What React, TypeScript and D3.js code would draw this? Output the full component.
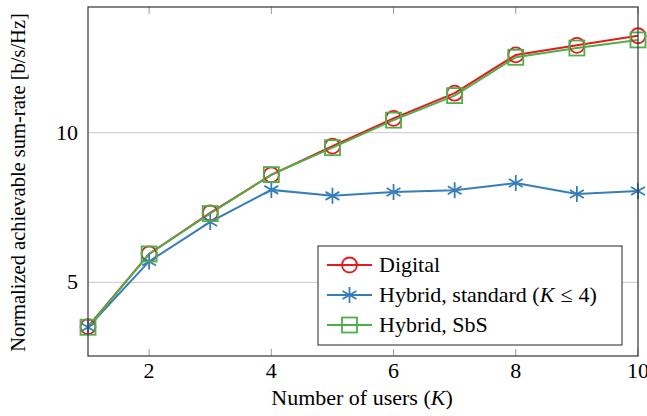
import React from 'react';
import * as d3 from 'd3';

const users = [1, 2, 3, 4, 5, 6, 7, 8, 9, 10];
const digital = [3.52, 5.95, 7.32, 8.59, 9.55, 10.48, 11.32, 12.6, 12.92, 13.24];
const hybridStandard = [3.5, 5.7, 7.02, 8.09, 7.89, 8.02, 8.08, 8.32, 7.95, 8.05];
const hybridSbS = [3.5, 5.95, 7.3, 8.6, 9.5, 10.42, 11.24, 12.52, 12.83, 13.1];
const xTicks = [2, 4, 6, 8, 10];
const yTicks = [5, 10];

const W = 647;
const H = 416;
const left = 88;
const right = 638;
const top = 7;
const bottom = 356;
const RED = '#e41a1c';
const BLUE = '#377eb8';
const GREEN = '#4daf4a';
const FONT = 'Liberation Serif';
const FS = 22;

const x = d3.scaleLinear().domain([1, 10]).range([left, right]);
const y = d3.scaleLinear().domain([2.54, 14.2]).range([bottom, top]);

function Star({ cx, cy, color }: { cx: number; cy: number; color: string }) {
  const r = 8;
  const spokes = d3.range(6).map(i => {
    const a = (i * Math.PI) / 3 - Math.PI / 2;
    return `M${cx},${cy}L${cx + r * Math.cos(a)},${cy + r * Math.sin(a)}`;
  });
  return <path d={spokes.join('')} stroke={color} strokeWidth={1.8} fill="none" />;
}

export default function App() {
  const line = d3
    .line<number>()
    .x((_, i) => x(users[i]))
    .y(d => y(d));

  const legendItems = [
    { label: 'Digital', color: RED, kind: 'circle' },
    { label: 'Hybrid, standard', color: BLUE, kind: 'star' },
    { label: 'Hybrid, SbS', color: GREEN, kind: 'square' },
  ];

  return (
    <svg width={W} height={H} fontFamily={FONT} style={{ position: 'absolute', left: 0, top: 0, fontFamily: FONT }}>
      <rect x={0} y={0} width={W} height={H} fill="#fff" />
      {yTicks.map(t => (
        <line key={t} x1={left} x2={right} y1={y(t)} y2={y(t)} stroke="#c8c8c8" strokeWidth={1} />
      ))}
      {xTicks.map(t => (
        <g key={t}>
          <line x1={x(t)} x2={x(t)} y1={bottom} y2={bottom - 7} stroke="#999" strokeWidth={1} />
          <line x1={x(t)} x2={x(t)} y1={top} y2={top + 7} stroke="#999" strokeWidth={1} />
          <text x={x(t)} y={bottom + 22} textAnchor="middle" fontSize={FS} fontFamily={FONT}>
            {t}
          </text>
        </g>
      ))}
      {yTicks.map(t => (
        <text key={t} x={left - 10} y={y(t) + 7} textAnchor="end" fontSize={FS} fontFamily={FONT}>
          {t}
        </text>
      ))}

      <path d={line(digital) || ''} stroke={RED} strokeWidth={2} fill="none" />
      <path d={line(hybridStandard) || ''} stroke={BLUE} strokeWidth={2} fill="none" />
      <path d={line(hybridSbS) || ''} stroke={GREEN} strokeWidth={2} fill="none" />

      {digital.map((v, i) => (
        <circle key={'d' + i} cx={x(users[i])} cy={y(v)} r={7.5} stroke={RED} strokeWidth={1.8} fill="none" />
      ))}
      {hybridStandard.map((v, i) => (
        <Star key={'h' + i} cx={x(users[i])} cy={y(v)} color={BLUE} />
      ))}
      {hybridSbS.map((v, i) => (
        <rect key={'s' + i} x={x(users[i]) - 7.5} y={y(v) - 7.5} width={15} height={15} stroke={GREEN} strokeWidth={1.8} fill="none" />
      ))}

      <rect x={left} y={top} width={right - left} height={bottom - top} fill="none" stroke="#333" strokeWidth={1.2} />

      <g>
        <rect x={318} y={246} width={304} height={99} fill="#fff" stroke="#222" strokeWidth={1} />
        {legendItems.map((it, i) => {
          const cy = 265 + i * 30;
          return (
            <g key={it.label}>
              <line x1={327} x2={372} y1={cy} y2={cy} stroke={it.color} strokeWidth={2} />
              {it.kind === 'circle' && <circle cx={349.5} cy={cy} r={7.5} stroke={it.color} strokeWidth={1.8} fill="none" />}
              {it.kind === 'star' && <Star cx={349.5} cy={cy} color={it.color} />}
              {it.kind === 'square' && (
                <rect x={342} y={cy - 7.5} width={15} height={15} stroke={it.color} strokeWidth={1.8} fill="none" />
              )}
              <text x={379} y={cy + 7} fontSize={FS} fontFamily={FONT}>
                {it.label}
                {it.kind === 'star' && (
                  <>
                    {' ('}
                    <tspan fontStyle="italic">K</tspan>
                    <tspan dx={6}>{'\u2264'}</tspan>
                    <tspan dx={6}>4</tspan>
                    <tspan>)</tspan>
                  </>
                )}
              </text>
            </g>
          );
        })}
      </g>

      <text x={(left + right) / 2 - 1} y={405} textAnchor="middle" fontSize={FS} fontFamily={FONT}>
        Number of users (<tspan fontStyle="italic">K</tspan>)
      </text>
      <text transform={`translate(25, ${(top + bottom) / 2 + 1}) rotate(-90)`} textAnchor="middle" fontSize={20.5} fontFamily={FONT}>
        Normalized achievable sum-rate [b/s/Hz]
      </text>
    </svg>
  );
}
